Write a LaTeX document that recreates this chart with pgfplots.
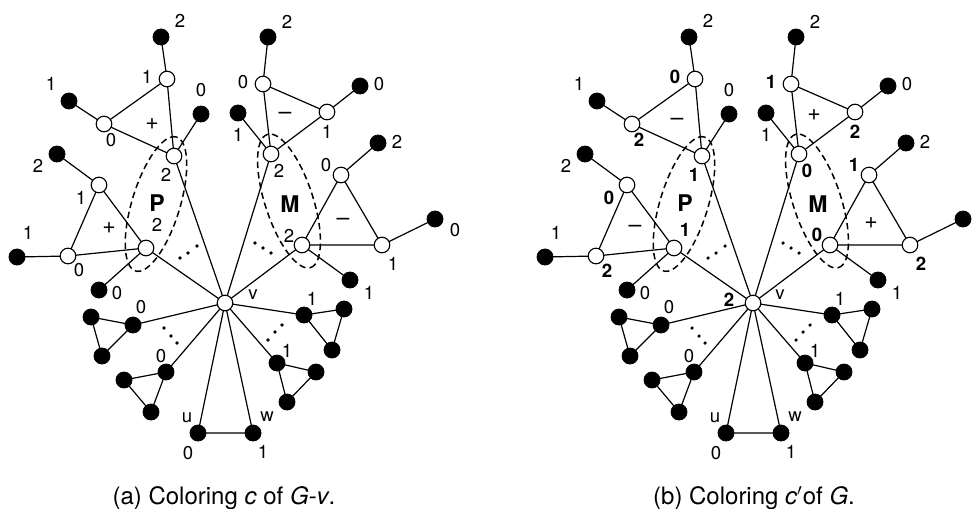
\documentclass[border=0pt]{standalone}
\usepackage{pgfplots}
\pgfplotsset{compat=1.18}
\usepackage{pgfplotstable}
\usepackage{fontspec}
\setmainfont{TeX Gyre Heros}

\pgfplotstableread{
x y
161 37
167 79
174 156
104 124
167 79
nan nan
69 101
104 124
nan nan
201 114
174 156
225 303
nan nan
57 154
99 185
146 248
68 256
99 185
nan nan
17 257
68 256
nan nan
99 290
146 248
225 303
nan nan
225 303
133 325
91 317
102 356
133 325
nan nan
225 303
166 372
124 380
151 412
166 372
nan nan
225 303
198 433
253 433
225 303
nan nan
225 303
277 363
316 372
287 402
277 363
nan nan
225 303
304 315
344 309
332 350
304 315
nan nan
350 280
302 245
225 303
271 154
238 113
nan nan
302 245
382 245
341 175
302 245
nan nan
378 143
341 175
nan nan
382 245
435 219
nan nan
271 154
263 84
327 112
271 154
nan nan
268 37
263 84
nan nan
327 112
360 86
}\edges

\pgfplotstableread{
x y
167 79
104 124
174 156
99 185
68 256
146 248
302 245
382 245
341 175
271 154
327 112
263 84
225 303
}\whitenodes

\pgfplotstableread{
x y
161 37
69 101
201 114
57 154
17 257
99 290
133 325
91 317
102 356
166 372
124 380
151 412
198 433
253 433
277 363
316 372
287 402
304 315
344 309
332 350
350 280
435 219
378 143
238 113
360 86
268 37
}\blacknodes

\pgfplotstableread{
x y
180 258
188 253
197 246
255 243
263 248
271 253
164 328
171 336
177 343
282 325
275 332
268 340
}\dotpts

\newcommand{\lab}[3]{\node[font=\fontsize{9.3}{10}\selectfont, inner sep=0pt] at (#1,#2) {#3};}
\newcommand{\blab}[3]{\node[font=\fontsize{9.3}{10}\selectfont\bfseries, inner sep=0pt] at (#1,#2) {#3};}
\newcommand{\sgn}[3]{\node[font=\fontsize{11.5}{12}\selectfont, inner sep=0pt] at (#1,#2) {#3};}
\newcommand{\biglab}[3]{\node[font=\fontsize{11.5}{12}\selectfont\bfseries, inner sep=0pt] at (#1,#2) {#3};}

\begin{document}
\begin{tikzpicture}
\begin{axis}[x=0.5pt, y=0.5pt, xmin=0, xmax=977, ymin=0, ymax=508,
  y dir=reverse, hide axis, clip=false, scale only axis, unbounded coords=jump]
\pgfplotsinvokeforeach{0,528}{
  \addplot[black, line width=0.6pt, no markers] table[x expr=\thisrow{x}+#1, y=y] {\edges};
  \addplot[only marks, mark=*, mark size=3.9pt, mark options={draw=black, fill=white, line width=0.55pt}] table[x expr=\thisrow{x}+#1, y=y] {\whitenodes};
  \addplot[only marks, mark=*, mark size=4.0pt, mark options={draw=black, fill=black}] table[x expr=\thisrow{x}+#1, y=y] {\blacknodes};
  \addplot[only marks, mark=*, mark size=0.6pt, mark options={draw=black, fill=black}] table[x expr=\thisrow{x}+#1, y=y] {\dotpts};
}
% ellipses
\draw[line width=0.75pt, dash pattern=on 3.2pt off 2pt] (156,204) ellipse [x radius=35pt, y radius=12pt, rotate=73];
\draw[line width=0.75pt, dash pattern=on 3.2pt off 2pt] (289,201) ellipse [x radius=35pt, y radius=12pt, rotate=-72];
\draw[line width=0.75pt, dash pattern=on 3.2pt off 2pt] (684,204) ellipse [x radius=35pt, y radius=12pt, rotate=73];
\draw[line width=0.75pt, dash pattern=on 3.2pt off 2pt] (817,201) ellipse [x radius=35pt, y radius=12pt, rotate=-72];

% common black-node labels, left
\lab{180}{21}{2}\lab{51}{84}{1}\lab{201}{90}{0}\lab{38}{166}{2}\lab{28}{233}{1}
\lab{117}{293}{0}\lab{141}{307}{0}\lab{161}{356}{0}\lab{187}{418}{u}\lab{188}{453}{0}
\lab{267}{417}{w}\lab{263}{452}{1}\lab{287}{351}{1}\lab{312}{299}{1}\lab{369}{293}{1}
\lab{397}{142}{2}\lab{238}{135}{1}\lab{379}{84}{0}\lab{287}{22}{2}\lab{253}{295}{v}
\lab{455}{230}{0}
% common black-node labels, right
\lab{708}{21}{2}\lab{579}{84}{1}\lab{729}{90}{0}\lab{566}{166}{2}\lab{556}{233}{1}
\lab{645}{293}{0}\lab{669}{307}{0}\lab{689}{356}{0}\lab{715}{418}{u}\lab{716}{453}{0}
\lab{795}{417}{w}\lab{791}{452}{1}\lab{815}{351}{1}\lab{840}{299}{1}\lab{897}{293}{1}
\lab{925}{142}{2}\lab{766}{135}{1}\lab{907}{84}{0}\lab{815}{22}{2}\lab{780}{295}{v}
% white-node labels, left
\lab{147}{77}{1}\lab{111}{140}{0}\lab{166}{175}{2}\lab{81}{198}{1}\lab{79}{270}{0}
\lab{157}{225}{2}\lab{289}{236}{2}\lab{393}{264}{1}\lab{326}{165}{0}\lab{279}{171}{2}
\lab{327}{132}{1}\lab{243}{82}{0}
% white-node labels, right (bold)
\blab{675}{77}{0}\blab{639}{140}{2}\blab{694}{175}{1}\blab{609}{198}{0}\blab{607}{271}{2}
\blab{685}{230}{1}\blab{817}{235}{0}\blab{921}{264}{2}\blab{854}{165}{1}\blab{807}{171}{0}
\blab{855}{132}{2}\blab{771}{82}{1}\blab{729}{300}{2}
% signs
\sgn{152}{124}{+}\sgn{109}{228}{+}\sgn{285}{116}{--}\sgn{343}{222}{--}
\sgn{677}{122}{--}\sgn{635}{229}{--}\sgn{814}{115}{+}\sgn{871}{223}{+}
\biglab{157}{203}{P}\biglab{290}{204}{M}\biglab{685}{203}{P}\biglab{818}{204}{M}
% captions
\node[anchor=base, font=\fontsize{12}{14}\selectfont, inner sep=0pt] at (224,504) {(a) Coloring \textit{c} of \textit{G-v}.};
\node[anchor=base, font=\fontsize{12}{14}\selectfont, inner sep=0pt] at (754,504) {(b) Coloring \textit{c$'$}of \textit{G}.};
\end{axis}
\pgfresetboundingbox
\useasboundingbox (current axis.south west) rectangle (current axis.north east);
\end{tikzpicture}
\end{document}
